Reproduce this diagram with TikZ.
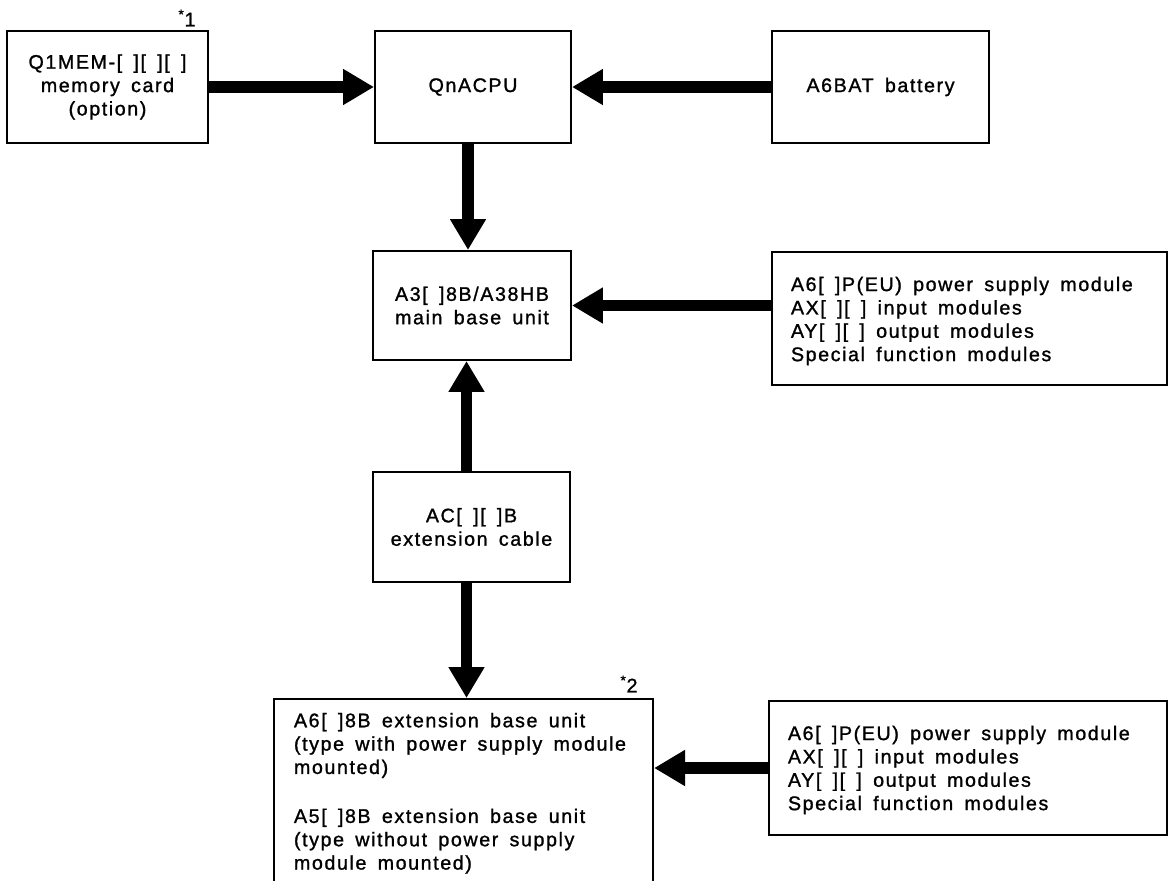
\documentclass[tikz,border=0pt]{standalone}
\usepackage{fontspec}
\setmainfont{Liberation Sans}[LetterSpace=8,WordSpace=1.6,FakeBold=1.2]
\usetikzlibrary{arrows.meta}

\begin{document}
\begin{tikzpicture}
		[x=0.025cm,y=-0.025cm,line width=1.4pt,
		 font=\fontsize{14}{16.6}\selectfont,
		 unit/.style={draw,inner sep=0pt,align=center},
		 listtext/.style={anchor=west,align=left,inner sep=0pt},
		 bigarrow/.style={-{Triangle[width=24.2pt,length=22pt]},line width=8.5pt}]
		\useasboundingbox (0,0) rectangle (1168,880);
		\clip (0,0) rectangle (1168,880);

		% draw the top row
		\node [unit,minimum width=5.025cm,minimum height=2.8cm] (card) at (107.5,87) {Q1MEM-[ ][ ][ ]\\memory card\\(option)};
		\node (star1) at (187,18) {\textsuperscript{*}1};
		\node [unit,minimum width=4.9cm,minimum height=2.8cm] (cpu) at (473,87) {QnACPU};
		\node [unit,minimum width=5.425cm,minimum height=2.8cm] (battery) at (880.5,87) {A6BAT battery};

		% draw the main base and its modules
		\node [unit,minimum width=4.95cm,minimum height=2.725cm] (base) at (472,305.5) {A3[ ]8B/A38HB\\main base unit};
		\node [unit,minimum width=9.875cm,minimum height=3.325cm] (mods1) at (969.5,318.5) {};
		\node [listtext] (mods1info) at ([xshift=0.475cm,yshift=-0.0625cm]mods1.west) {A6[ ]P(EU) power supply module\\AX[ ][ ] input modules\\AY[ ][ ] output modules\\Special function modules};

		% draw the cable
		\node [unit,minimum width=4.925cm,minimum height=2.75cm] (cable) at (471.5,527) {AC[ ][ ]B\\extension cable};

		% draw the extension base and its modules
		\node [draw,minimum width=9.475cm,minimum height=5.2cm,anchor=north west] (ext) at (273,698) {};
		\node [anchor=north west,align=left,inner sep=0pt] (extinfo) at ([xshift=0.5cm,yshift=-0.35cm]ext.north west) {A6[ ]8B extension base unit\\(type with power supply module\\mounted)\\[0.64cm]A5[ ]8B extension base unit\\(type without power supply\\module mounted)};
		\node (star2) at (629,684) {\textsuperscript{*}2};
		\node [unit,minimum width=9.95cm,minimum height=3.35cm] (mods2) at (968,768) {};
		\node [listtext] (mods2info) at ([xshift=0.475cm,yshift=-0.05cm]mods2.west) {A6[ ]P(EU) power supply module\\AX[ ][ ] input modules\\AY[ ][ ] output modules\\Special function modules};

		% draw the arrows
		\coordinate (cputail) at ([xshift=-0.125cm]cpu.south);
		\coordinate (cabletop) at ([xshift=-0.125cm]cable.north);
		\coordinate (cablefoot) at ([xshift=-0.125cm]cable.south);
		\draw [bigarrow] (card.east) -- (cpu.west);
		\draw [bigarrow] (battery.west) -- (cpu.east);
		\draw [bigarrow] (cputail) -- (cputail |- base.north);
		\draw [bigarrow] (mods1.west |- base.east) -- (base.east);
		\draw [bigarrow] (cabletop) -- (cabletop |- base.south);
		\draw [bigarrow] (cablefoot) -- (cablefoot |- ext.north);
		\draw [bigarrow] (mods2.west) -- (mods2.west -| ext.east);
	\end{tikzpicture}
\end{document}
